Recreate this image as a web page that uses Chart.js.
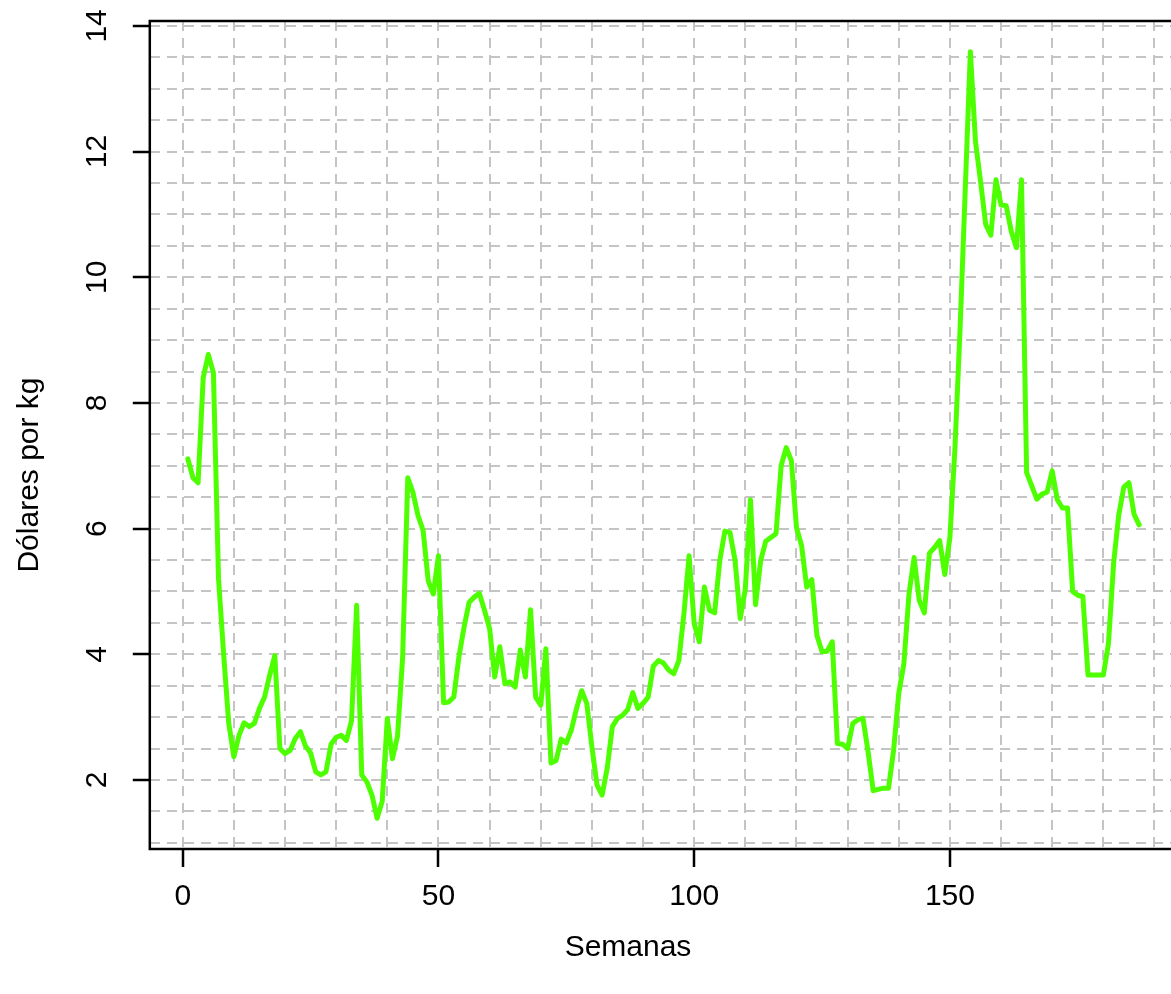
<!DOCTYPE html>
<html>
<head>
<meta charset="utf-8">
<script src="https://cdn.jsdelivr.net/npm/chart.js@4/dist/chart.umd.min.js"></script>
<style>
  html, body { margin:0; padding:0; background:#fff; overflow:hidden; }
  canvas { display:block; }
</style>
</head>
<body>
<canvas id="grafico" width="1190" height="994"></canvas>
<script>
// precio semanal (USD/kg), semana 1..187
const precios = [
  7.11, 6.81, 6.73, 8.40, 8.77, 8.48, 5.20, 4.00, 2.90, 2.37,
  2.71, 2.91, 2.85, 2.90, 3.14, 3.32, 3.67, 3.98, 2.50, 2.42,
  2.47, 2.66, 2.77, 2.54, 2.43, 2.13, 2.08, 2.13, 2.57, 2.68,
  2.71, 2.63, 2.94, 4.78, 2.08, 1.97, 1.76, 1.39, 1.66, 2.98,
  2.34, 2.70, 3.96, 6.81, 6.58, 6.21, 5.97, 5.17, 4.96, 5.57,
  3.23, 3.24, 3.32, 3.96, 4.43, 4.83, 4.91, 4.97, 4.70, 4.41,
  3.64, 4.12, 3.53, 3.56, 3.48, 4.07, 3.64, 4.71, 3.32, 3.19,
  4.09, 2.27, 2.31, 2.65, 2.59, 2.80, 3.14, 3.42, 3.22, 2.53,
  1.92, 1.76, 2.19, 2.85, 2.98, 3.03, 3.12, 3.39, 3.14, 3.22,
  3.32, 3.81, 3.90, 3.86, 3.75, 3.69, 3.90, 4.65, 5.57, 4.49,
  4.20, 5.07, 4.70, 4.66, 5.49, 5.96, 5.94, 5.49, 4.57, 5.04,
  6.46, 4.79, 5.49, 5.80, 5.86, 5.92, 7.00, 7.29, 7.08, 6.02,
  5.73, 5.07, 5.19, 4.30, 4.04, 4.05, 4.20, 2.58, 2.57, 2.50,
  2.90, 2.96, 2.98, 2.45, 1.83, 1.85, 1.87, 1.87, 2.48, 3.38,
  3.85, 4.96, 5.54, 4.86, 4.66, 5.61, 5.70, 5.81, 5.27, 5.86,
  7.30, 9.20, 11.40, 13.59, 12.16, 11.52, 10.84, 10.67, 11.55, 11.15,
  11.14, 10.73, 10.47, 11.55, 6.89, 6.68, 6.47, 6.55, 6.58, 6.92,
  6.46, 6.33, 6.33, 5.00, 4.94, 4.92, 3.67, 3.67, 3.67, 3.67,
  4.17, 5.44, 6.21, 6.66, 6.73, 6.23, 6.06
];
const semanas = precios.map((_, i) => i + 1);

const ticksX = [0, 50, 100, 150];
const ticksY = [2, 4, 6, 8, 10, 12, 14];
const tituloX = "Semanas";
const tituloY = "Dólares por kg";

const FUENTE = '"Liberation Sans", Arial, Helvetica, sans-serif';
const VERDE  = "#4dff00";
const GRIS   = "#c4c4c4";

// rango estilo R: 4% extra a cada lado
function rango(vals) {
  const lo = Math.min(...vals), hi = Math.max(...vals);
  const d = (hi - lo) * 0.04;
  return { min: lo - d, max: hi + d };
}
const rx = rango(semanas);
const ry = rango(precios);

const esTick = (v, lista) => lista.some(t => Math.abs(t - v) < 1e-9);

function textoRotado(ctx, txt, x, y) {
  ctx.save();
  ctx.translate(x, y);
  ctx.rotate(-Math.PI / 2);
  ctx.fillText(txt, 0, 0);
  ctx.restore();
}

// ── caja, etiquetas del eje y (rotadas como en R) y títulos ───────────────
const cajaPlugin = {
  id: "caja",
  afterDraw(chart) {
    const { ctx, chartArea: a, scales } = chart;
    ctx.save();
    ctx.strokeStyle = "#000";
    ctx.lineWidth = 2.5;
    ctx.strokeRect(a.left, a.top, a.right - a.left, a.bottom - a.top);

    ctx.fillStyle = "#000";
    ctx.font = "30px " + FUENTE;
    ctx.textAlign = "center";
    ctx.textBaseline = "middle";
    ticksY.forEach(v => textoRotado(ctx, String(v), a.left - 52, scales.y.getPixelForValue(v)));

    ctx.fillText(tituloX, 628, 948);
    textoRotado(ctx, tituloY, 30, 475);
    ctx.restore();
  }
};

new Chart(document.getElementById("grafico"), {
  type: "line",
  data: {
    labels: semanas,
    datasets: [{
      data: semanas.map((s, i) => ({ x: s, y: precios[i] })),
      borderColor: VERDE,
      borderWidth: 5,
      borderJoinStyle: "round",
      borderCapStyle: "round",
      pointRadius: 0,
      tension: 0,
      fill: false
    }]
  },
  options: {
    responsive: false,
    animation: false,
    events: [],
    layout: { padding: { top: 19, right: 12.8, bottom: 0, left: 0 } },
    plugins: { legend: { display: false }, tooltip: { enabled: false } },
    scales: {
      x: {
        type: "linear",
        min: rx.min, max: rx.max,
        afterFit: s => { s.height = 145; },
        border: { display: false, dash: [10, 7] },
        grid: {
          color: GRIS, lineWidth: 2,
          tickLength: 18, tickWidth: 2.5,
          tickColor: c => esTick(c.tick.value, ticksX) ? "#000" : "rgba(0,0,0,0)",
          tickBorderDash: []
        },
        ticks: {
          stepSize: 10, includeBounds: false, autoSkip: false,
          maxRotation: 0, minRotation: 0, padding: 12,
          color: "#000", font: { family: FUENTE, size: 30 },
          callback: v => esTick(v, ticksX) ? String(v) : ""
        }
      },
      y: {
        type: "linear",
        min: ry.min, max: ry.max,
        afterFit: s => { s.width = 149.8; },
        border: { display: false, dash: [10, 7] },
        grid: {
          color: GRIS, lineWidth: 2,
          tickLength: 17, tickWidth: 2.5,
          tickColor: c => esTick(c.tick.value, ticksY) ? "#000" : "rgba(0,0,0,0)",
          tickBorderDash: []
        },
        ticks: {
          stepSize: 0.5, includeBounds: false, autoSkip: false,
          color: "rgba(0,0,0,0)", font: { family: FUENTE, size: 30 },
          callback: () => ""
        }
      }
    }
  },
  plugins: [cajaPlugin]
});
</script>
</body>
</html>
